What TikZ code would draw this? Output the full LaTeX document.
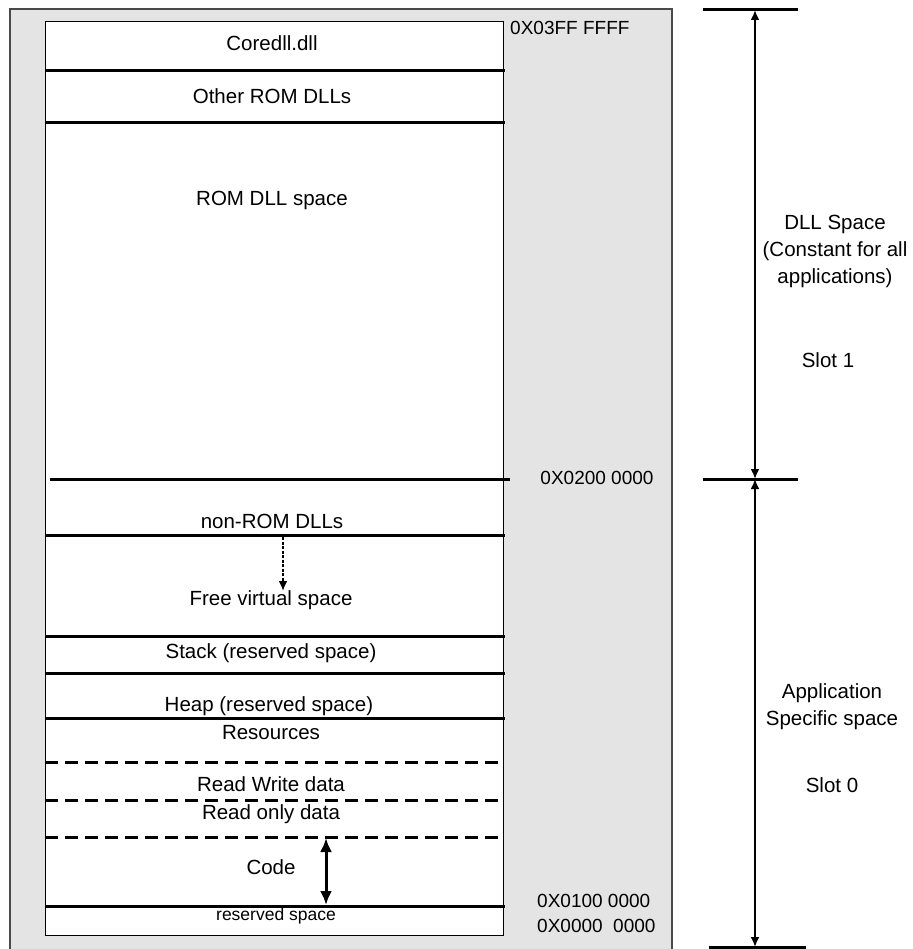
\documentclass[tikz,border=0pt]{standalone}
\usepackage{fontspec}
\setmainfont{Liberation Sans}
\usetikzlibrary{arrows.meta}

\definecolor{panelgray}{HTML}{E4E4E4}
\definecolor{framegray}{HTML}{4A4A4A}

\begin{document}
\begin{tikzpicture}[x=1pt,y=-1pt,
  lbl/.style={font=\fontsize{20.5}{27}\selectfont, inner sep=0pt},
  addr/.style={font=\fontsize{19}{23}\selectfont, inner sep=0pt},
  sep/.style={line width=3pt},
  subsep/.style={line width=3pt, dash pattern=on 13pt off 7pt},
  dim/.style={line width=2.5pt, {Latex[length=10pt,width=9pt]}-{Latex[length=10pt,width=9pt]}}]

\useasboundingbox (0,0) rectangle (912,949);

% grey panel
\fill[panelgray] (10,9) rectangle (672,952);
\draw[framegray, line width=1.5pt] (10,952) -- (10,9) -- (672,9) -- (672,952);

% address column
\draw[fill=white, line width=1pt] (45,22) rectangle (503,935);

% solid boundaries
\foreach \y in {70.7,122.7,535,636,673,718,906}
  \draw[sep] (45,\y) -- (505,\y);
\draw[sep] (50,479) -- (510,479);

% dashed boundaries
\foreach \y in {762,800,837}
  \draw[subsep] (45,\y) -- (505,\y);

% region labels
\node[lbl] (coredll) at (272,43) {Coredll.dll};
\node[lbl] (otherrom) at (272,96) {Other ROM DLLs};
\node[lbl] (romspace) at (272,200) {ROM DLL space};
\node[lbl] (nonrom) at (272,521) {non-ROM DLLs};
\node[lbl] (freevirt) at (271,600) {Free virtual space};
\node[lbl] (stack) at (271,653) {Stack (reserved space)};
\node[lbl] (heap) at (269,706) {Heap (reserved space)};
\node[lbl] (resources) at (271,733) {Resources};
\node[lbl] (rwdata) at (271,784) {Read Write data};
\node[lbl] (rodata) at (271,814) {Read only data};
\node[lbl] (code) at (271,867) {Code};
\node[lbl, font=\fontsize{17.5}{21}\selectfont] (reserved) at (276,916) {reserved space};

% growth arrows
\coordinate (growtop) at (283,537);
\coordinate (growbot) at (283,591);
\draw[line width=2.5pt, dash pattern=on 3pt off 1.5pt, -{Latex[length=10pt,width=9pt]}] (growtop) -- (growbot);
\coordinate (codetop) at (326,838);
\coordinate (codebot) at (326,905);
\draw[line width=3pt, {Latex[length=14pt,width=12pt]}-{Latex[length=14pt,width=12pt]}] (codetop) -- (codebot);

% addresses
\node[addr, anchor=west] (a03ff) at (510,28) {0X03FF FFFF};
\node[addr] (a0200) at (597,478) {0X0200 0000};
\node[addr, anchor=west] (a0100) at (537,901) {0X0100 0000};
\node[addr, anchor=west] (a0000) at (537,926) {0X0000\ \ 0000};

% slots
\draw[sep] (703,10) -- (798,10);
\draw[sep] (703,479) -- (798,479);
\draw[sep] (709,947) -- (806,947);
\coordinate (slottop) at (755,10);
\coordinate (slotmid) at (755,479);
\coordinate (slotbot) at (755,947);
\draw[dim] (slottop) -- (slotmid);
\draw[dim] (slotmid) -- (slotbot);

\node[lbl, align=center] (dllnote) at (835,251) {DLL Space\\(Constant for all\\applications)};
\node[lbl] (slot1) at (828,360) {Slot 1};
\node[lbl, align=center] (appnote) at (832,707) {Application\\Specific space};
\node[lbl] (slot0) at (832,785) {Slot 0};

\end{tikzpicture}
\end{document}
